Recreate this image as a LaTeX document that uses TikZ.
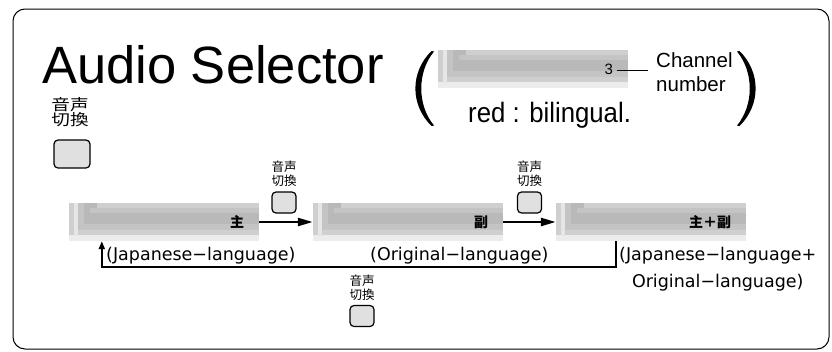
\documentclass[tikz,border=0pt]{standalone}
\usepackage{fontspec}
\usepackage{graphicx}
\setmainfont{Liberation Sans}
\newfontfamily\cjk{Noto Sans CJK JP}
\newfontfamily\cjkwide[FakeStretch=1.2]{Noto Sans CJK JP}
\newfontfamily\dvs{DejaVu Sans}
\usetikzlibrary{arrows.meta}
\definecolor{lcdA}{HTML}{ECECEC}
\definecolor{lcdB}{HTML}{CFCFCF}
\definecolor{lcdW}{HTML}{E6E6E6}
\definecolor{lcdC}{HTML}{C4C4C4}
\definecolor{lcdD}{HTML}{B9B9B9}
\definecolor{lcdT}{HTML}{CFCFCF}
\definecolor{btnfill}{HTML}{E0E0E0}
\begin{document}
\begin{tikzpicture}[x=1pt,y=-1pt,
  lcd/.style={minimum height=38pt, inner ysep=0pt, inner xsep=15pt,
    text width=160pt, align=right,
    path picture={
      \fill[lcdA] (path picture bounding box.north west) rectangle (path picture bounding box.south east);
      \fill[lcdB] (path picture bounding box.north west) rectangle ([yshift=6pt]path picture bounding box.south east);
      \fill[lcdW] ([xshift=5pt]path picture bounding box.north west) rectangle ([xshift=9pt,yshift=5pt]path picture bounding box.south west);
      \fill[lcdC] ([xshift=9pt]path picture bounding box.north west) rectangle ([yshift=11pt]path picture bounding box.south east);
      \fill[lcdD] ([xshift=15pt]path picture bounding box.north west) rectangle ([yshift=17pt]path picture bounding box.south east);
      \fill[lcdC] ([xshift=21pt,yshift=-5pt]path picture bounding box.north west) rectangle ([yshift=28pt]path picture bounding box.south east);
      \fill[lcdT] ([xshift=28pt]path picture bounding box.north west) rectangle ([yshift=33pt]path picture bounding box.south east);
    }},
  btn/.style={draw=black, line width=1.2pt, fill=btnfill, rounded corners=4pt, inner sep=0pt},
  bigbtn/.style={btn, minimum width=36pt, minimum height=28pt},
  smallbtn/.style={btn, minimum width=24pt, minimum height=21pt},
  jlab/.style={font=\cjk\fontsize{12.5}{14}\selectfont, align=center, inner sep=0pt},
  biglab/.style={font=\cjkwide\fontsize{15.5}{15}\selectfont, align=center, inner sep=0pt},
  barlab/.style={font=\cjk\bfseries\fontsize{14}{16}\selectfont},
  flow/.style={line width=2.5pt, -{Triangle[length=15pt,width=8pt]}},
  loopline/.style={line width=2pt, -{Triangle[length=8pt,width=6pt]}},
  langlab/.style={font=\dvs\fontsize{17.5}{26.5}\selectfont, inner sep=0pt}
]
\useasboundingbox (0,0) rectangle (832,351);
\draw[line width=1pt, rounded corners=12pt] (13,9) rectangle (829,349);

% title
\node[anchor=base west, inner sep=0pt, font=\fontsize{52.5}{60}\selectfont] (title) at (42,83) {Audio Selector};

% legend brackets
\fill (431.5,51) .. controls (410,72) and (410,105) .. (431.5,126)
  -- (434,125.5) .. controls (417,105) and (417,72) .. (434,51.5) -- cycle;
\fill (739.5,51) .. controls (761,72) and (761,105) .. (739.5,126)
  -- (737,125.5) .. controls (754,105) and (754,72) .. (737,51.5) -- cycle;

\node[lcd, font=\fontsize{15}{16}\selectfont] (leg) at (533,69) {3};
\node[anchor=north west, inner sep=0pt, align=left, font=\fontsize{20.5}{24.5}\selectfont] (chan) at (656,52) {Channel\\number};
\coordinate (c3) at (617,70);
\coordinate (c4) at (648,70);
\draw[line width=1pt] (c3) -- (c4);
\node[anchor=base west, inner sep=0pt, font=\fontsize{28}{30}\selectfont] (red) at (468,122) {\scalebox{0.92}[1]{red : bilingual.}};

% big button
\node[biglab] (sel) at (70,112) {音声\\切換};
\node[bigbtn] (selbtn) at (72,154) {};

% bars
\node[lcd, barlab] (bar1) at (164,222) {主};
\node[lcd, barlab] (bar2) at (408,222) {副};
\node[lcd, barlab] (bar3) at (651,222) {主＋副};

\draw[flow] (bar1.east) -- (bar2.west);
\draw[flow] (bar2.east) -- (bar3.west);

% small buttons
\node[jlab] (lab1) at (284,174) {音声\\切換};
\node[smallbtn] (btn1) at (284,202.5) {};
\node[jlab] (lab2) at (529.5,174) {音声\\切換};
\node[smallbtn] (btn2) at (529.5,202.5) {};
\node[jlab] (lab3) at (362,287.5) {音声\\切換};
\node[smallbtn] (btn3) at (362,316) {};

% loop
\coordinate (l3) at ([xshift=60pt]bar3.south west);
\coordinate (l1) at ([xshift=33pt]bar1.south west);
\coordinate (ly) at (0,267);
\draw[loopline] (l3) -- (l3 |- ly) -| (l1);

% language labels
\node[langlab, anchor=north west] (jl) at (106,247) {(Japanese−language)};
\node[langlab, anchor=north west] (ol) at (370,247) {(Original−language)};
\node[langlab, anchor=north west, align=center] (jol) at (619,247) {(Japanese−language+\\Original−language)};
\end{tikzpicture}
\end{document}
